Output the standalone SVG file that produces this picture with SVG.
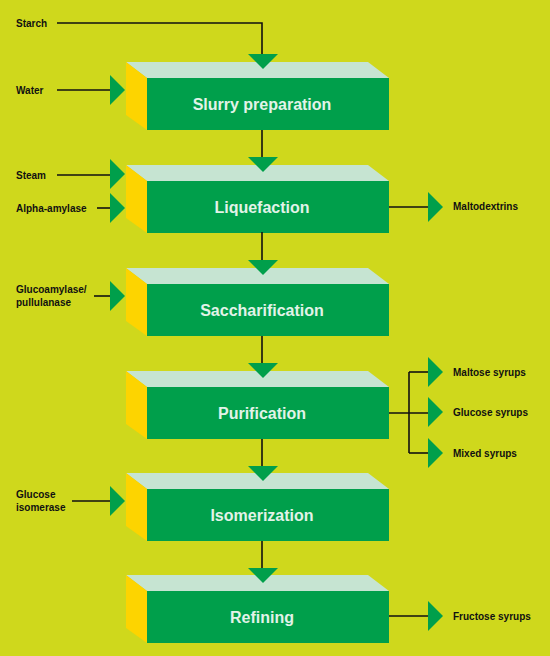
<svg xmlns="http://www.w3.org/2000/svg" width="550" height="656" viewBox="0 0 550 656">
<defs>
<style>
.bg{fill:#cfd81c}
.top{fill:#c6e4d2}
.side{fill:#fdd400}
.front{fill:#009f4b}
.title{font-family:"Liberation Sans",Arial,sans-serif;font-weight:bold;font-size:16px;fill:#e2f3e8;text-anchor:middle}
.lbl{font-family:"Liberation Sans",Arial,sans-serif;font-weight:bold;font-size:10px;fill:#111}
.ln{stroke:#111;stroke-width:1.6;fill:none}
.tri{fill:#009f4b}
</style>
<polygon id="down" class="tri" points="-15,0 15,0 0,15"/>
<polygon id="right" class="tri" points="0,-15 0,15 15,0"/>
</defs>
<rect class="bg" x="0" y="0" width="550" height="656"/>

<g id="slurry" transform="translate(0,62)">
<polygon class="top" points="126,0 368,0 389,16 147,16"/>
<polygon class="side" points="126,0 147,16 147,68 126,53"/>
<rect class="front" x="147" y="16" width="242" height="52"/>
<text class="title" x="262" y="48">Slurry preparation</text>
</g>
<g id="liquefaction" transform="translate(0,165)">
<polygon class="top" points="126,0 368,0 389,16 147,16"/>
<polygon class="side" points="126,0 147,16 147,68 126,53"/>
<rect class="front" x="147" y="16" width="242" height="52"/>
<text class="title" x="262" y="48">Liquefaction</text>
</g>
<g id="saccharification" transform="translate(0,268)">
<polygon class="top" points="126,0 368,0 389,16 147,16"/>
<polygon class="side" points="126,0 147,16 147,68 126,53"/>
<rect class="front" x="147" y="16" width="242" height="52"/>
<text class="title" x="262" y="48">Saccharification</text>
</g>
<g id="purification" transform="translate(0,371)">
<polygon class="top" points="126,0 368,0 389,16 147,16"/>
<polygon class="side" points="126,0 147,16 147,68 126,53"/>
<rect class="front" x="147" y="16" width="242" height="52"/>
<text class="title" x="262" y="48">Purification</text>
</g>
<g id="isomerization" transform="translate(0,473)">
<polygon class="top" points="126,0 368,0 389,16 147,16"/>
<polygon class="side" points="126,0 147,16 147,68 126,53"/>
<rect class="front" x="147" y="16" width="242" height="52"/>
<text class="title" x="262" y="48">Isomerization</text>
</g>
<g id="refining" transform="translate(0,575)">
<polygon class="top" points="126,0 368,0 389,16 147,16"/>
<polygon class="side" points="126,0 147,16 147,68 126,53"/>
<rect class="front" x="147" y="16" width="242" height="52"/>
<text class="title" x="262" y="48">Refining</text>
</g>

<g id="connectors">
<path class="ln" d="M57,23 H262 V55"/>
<path class="ln" d="M262,130 V158"/>
<path class="ln" d="M262,232 V261"/>
<path class="ln" d="M262,336 V364"/>
<path class="ln" d="M262,439 V466"/>
<path class="ln" d="M262,541 V568"/>
<path class="ln" d="M57,90 H111"/>
<path class="ln" d="M57,175 H111"/>
<path class="ln" d="M97,208 H111"/>
<path class="ln" d="M94,296 H111"/>
<path class="ln" d="M72,501 H111"/>
<path class="ln" d="M389,207 H429"/>
<path class="ln" d="M389,413 H429"/>
<path class="ln" d="M409,372 V453"/>
<path class="ln" d="M409,372 H429"/>
<path class="ln" d="M409,453 H429"/>
<path class="ln" d="M389,616 H429"/>
<use href="#down" x="263" y="54"/>
<use href="#down" x="263" y="157"/>
<use href="#down" x="263" y="260"/>
<use href="#down" x="263" y="363"/>
<use href="#down" x="263" y="466"/>
<use href="#down" x="263" y="568"/>
<use href="#right" x="110" y="90"/>
<use href="#right" x="110" y="174"/>
<use href="#right" x="110" y="208"/>
<use href="#right" x="110" y="296"/>
<use href="#right" x="110" y="501"/>
<use href="#right" x="428" y="207"/>
<use href="#right" x="428" y="372"/>
<use href="#right" x="428" y="412"/>
<use href="#right" x="428" y="453"/>
<use href="#right" x="428" y="616"/>
</g>

<g id="labels">
<text class="lbl" x="16" y="27">Starch</text>
<text class="lbl" x="16" y="94">Water</text>
<text class="lbl" x="16" y="179">Steam</text>
<text class="lbl" x="16" y="212">Alpha-amylase</text>
<text class="lbl" x="16" y="293">Glucoamylase/</text>
<text class="lbl" x="16" y="306">pullulanase</text>
<text class="lbl" x="16" y="498">Glucose</text>
<text class="lbl" x="16" y="511">isomerase</text>
<text class="lbl" x="453" y="210">Maltodextrins</text>
<text class="lbl" x="453" y="376">Maltose syrups</text>
<text class="lbl" x="453" y="416">Glucose syrups</text>
<text class="lbl" x="453" y="457">Mixed syrups</text>
<text class="lbl" x="453" y="620">Fructose syrups</text>
</g>
</svg>
